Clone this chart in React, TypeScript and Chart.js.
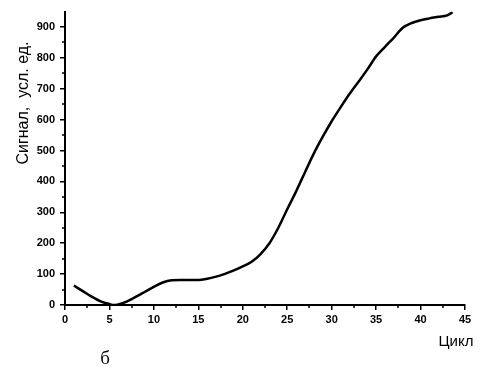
import React, { useEffect, useRef } from "react";
import { Chart, registerables } from "chart.js";

Chart.register(...registerables);

const cycles = [1, 2, 3, 4, 5, 5.5, 6, 7, 8, 9, 10, 11, 12, 13, 14, 15, 16, 17, 18, 19, 20, 21, 22, 23, 24, 25, 26, 27, 28, 29, 30, 31, 32, 33, 34, 35, 36, 37, 38, 39, 40, 41, 42, 43, 43.6];
const signal = [63, 45, 27, 12, 3, 0, 2, 12, 27, 43, 59, 73, 80, 81, 81, 81, 85, 92, 101, 112, 125, 140, 165, 200, 250, 310, 368, 430, 491, 545, 595, 640, 683, 722, 762, 805, 836, 866, 898, 913, 922, 928, 933, 938, 948];

const xTicks = [0, 5, 10, 15, 20, 25, 30, 35, 40, 45];
const yTicks = [0, 100, 200, 300, 400, 500, 600, 700, 800, 900];
const xMinor = [2.5, 7.5, 12.5, 17.5, 22.5, 27.5, 32.5, 37.5, 42.5];
const yMinor = [50, 150, 250, 350, 450, 550, 650, 750, 850];

const yTitle = "Сигнал,  усл. ед.";
const xTitle = "Цикл";
const panelLabel = "б";

const tickFont = { family: "'Liberation Sans', Arial, sans-serif", size: 11, weight: "bold" as const };

const extrasPlugin = {
  id: "extras",
  afterDraw(chart: any) {
    const ctx = chart.ctx;
    const xs = chart.scales.x;
    const ys = chart.scales.y;
    const area = chart.chartArea;
    ctx.save();
    ctx.strokeStyle = "#000";
    ctx.lineWidth = 1.5;
    ctx.beginPath();
    for (const v of xMinor) {
      const px = Math.round(xs.getPixelForValue(v));
      ctx.moveTo(px, area.bottom);
      ctx.lineTo(px, area.bottom + 3);
    }
    for (const v of yMinor) {
      const py = Math.round(ys.getPixelForValue(v));
      ctx.moveTo(area.left, py);
      ctx.lineTo(area.left - 3, py);
    }
    ctx.stroke();

    ctx.fillStyle = "#000";
    ctx.font = "16px 'Liberation Sans', Arial, sans-serif";
    ctx.textAlign = "center";
    ctx.textBaseline = "middle";
    ctx.save();
    ctx.translate(24, 103);
    ctx.rotate(-Math.PI / 2);
    ctx.fillText(yTitle, 0, 0);
    ctx.restore();

    ctx.font = "15px 'Liberation Sans', Arial, sans-serif";
    ctx.fillText(xTitle, 456, 342);

    ctx.font = "19px 'Liberation Serif', 'Times New Roman', serif";
    ctx.fillText(panelLabel, 105, 359);
    ctx.restore();
  },
};

export default function App() {
  const ref = useRef<HTMLCanvasElement>(null);
  useEffect(() => {
    if (!ref.current) return;
    const chart = new Chart(ref.current, {
      type: "line",
      data: {
        datasets: [
          {
            data: cycles.map((c, i) => ({ x: c, y: signal[i] })),
            borderColor: "#000",
            borderWidth: 2.5,
            pointRadius: 0,
            fill: false,
            cubicInterpolationMode: "monotone",
          },
        ],
      },
      options: {
        responsive: false,
        animation: false,
        layout: { padding: { top: 11, right: 19, left: 0, bottom: 0 } },
        plugins: { legend: { display: false }, tooltip: { enabled: false }, title: { display: false } },
        scales: {
          x: {
            type: "linear",
            min: 0,
            max: 45,
            afterBuildTicks: (s: any) => {
              s.ticks = xTicks.map((v) => ({ value: v }));
            },
            afterFit: (s: any) => {
              s.height = 62;
            },
            ticks: { font: tickFont, color: "#000", padding: 3, maxRotation: 0, autoSkip: false },
            grid: { drawOnChartArea: false, drawTicks: true, tickLength: 5, color: "#000", lineWidth: 1.5 },
            border: { display: true, color: "#000", width: 2 },
          },
          y: {
            type: "linear",
            min: 0,
            max: 950,
            afterBuildTicks: (s: any) => {
              s.ticks = yTicks.map((v) => ({ value: v }));
            },
            afterFit: (s: any) => {
              s.width = 65;
            },
            ticks: { font: tickFont, color: "#000", padding: 5, autoSkip: false },
            grid: { drawOnChartArea: false, drawTicks: true, tickLength: 5, color: "#000", lineWidth: 1.5 },
            border: { display: true, color: "#000", width: 2 },
          },
        },
      },
      plugins: [extrasPlugin],
    } as any);
    return () => chart.destroy();
  }, []);
  return (
    <div style={{ position: "absolute", left: 0, top: 0, width: 484, height: 367, background: "#fff" }}>
      <canvas ref={ref} width={484} height={367} style={{ display: "block", width: 484, height: 367 }} />
    </div>
  );
}
